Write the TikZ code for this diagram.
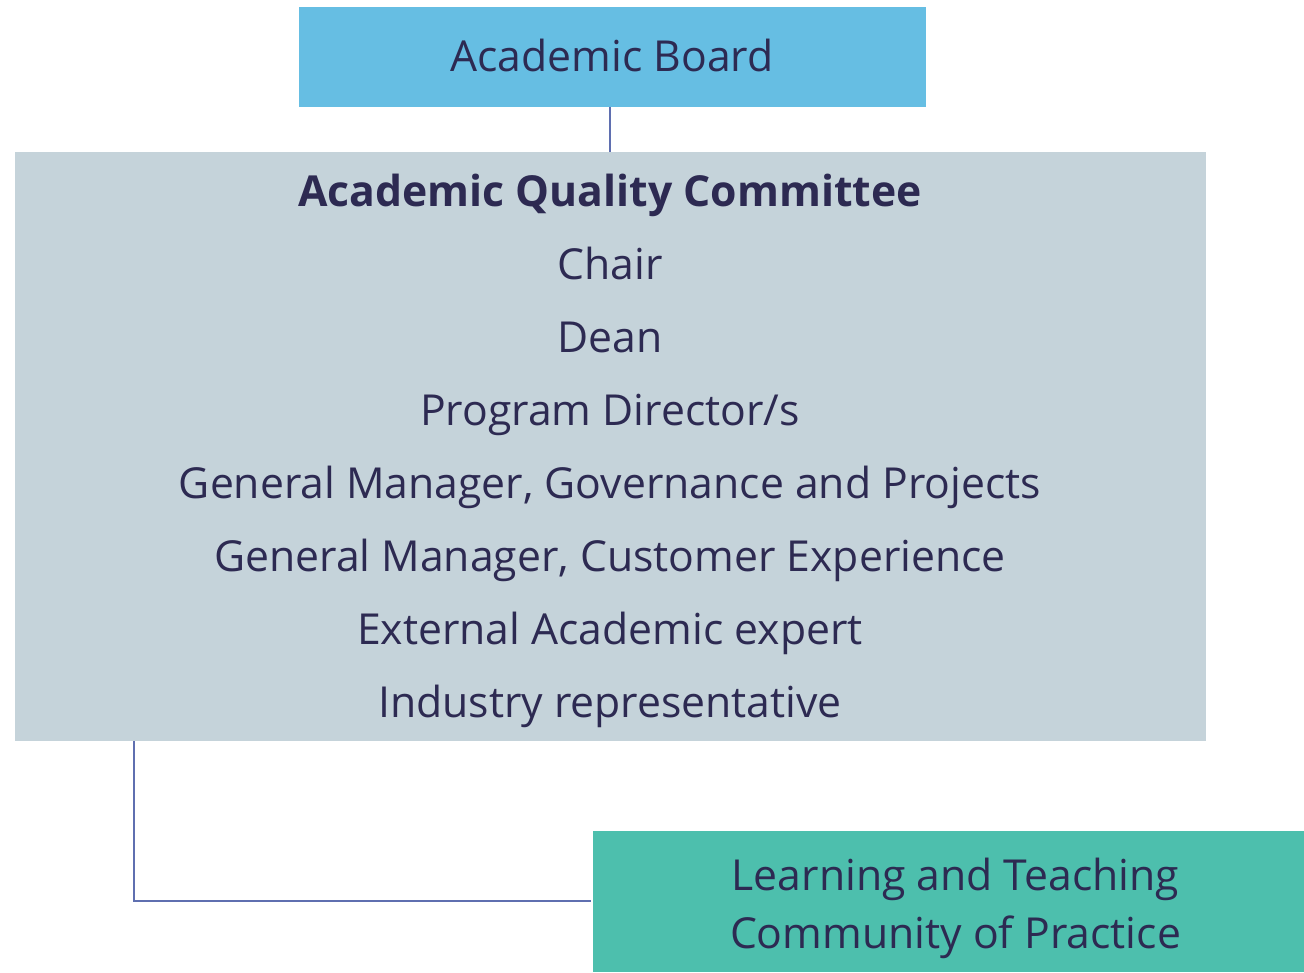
\documentclass[tikz,border=0pt]{standalone}
\usepackage{fontspec}
\setmainfont{Open Sans}
\definecolor{boardblue}{HTML}{66BEE3}
\definecolor{aqcgrey}{HTML}{C5D3DA}
\definecolor{ltgreen}{HTML}{4DBFAD}
\definecolor{txt}{HTML}{2D2A52}
\definecolor{conn}{HTML}{5F6FB0}
\begin{document}
\begin{tikzpicture}[x=1pt,y=-1pt,
  box/.style={inner sep=0pt, outer sep=0pt},
  label/.style={inner sep=0pt, outer sep=0pt, text=txt, align=center, anchor=base},
  link/.style={draw=conn, line width=2.2pt}]
\useasboundingbox (0,0) rectangle (1304,973);
% boxes
\node[box, fill=boardblue, minimum width=627pt, minimum height=100pt] (board) at (612.5,57) {};
\node[box, fill=aqcgrey, minimum width=1191pt, minimum height=589pt] (aqc) at (610.5,446.5) {};
\node[box, fill=ltgreen, minimum width=711pt, minimum height=141pt] (ltcp) at (948.5,901.5) {};
% texts
\node[label, font=\fontsize{42.7}{50}\selectfont] (boardtext) at (612,72) {Academic Board};
\node[label, font=\fontsize{42.7}{72.86}\selectfont] (members) at (610,717)
 {\textbf{Academic Quality Committee}\\Chair\\Dean\\Program Director/s\\General Manager, Governance and Projects\\General Manager, Customer Experience\\External Academic expert\\Industry representative};
\node[label, font=\fontsize{42.7}{58}\selectfont] (ltcptext) at (955.5,948) {Learning and Teaching\\Community of Practice};
% connectors
\draw[link] (board.south -| 610,0) -- (aqc.north -| 610,0);
\coordinate (corner) at (134,901);
\draw[link] (aqc.south -| corner) -- (corner) -- ([xshift=-2pt]ltcp.west |- corner);
\end{tikzpicture}
\end{document}
